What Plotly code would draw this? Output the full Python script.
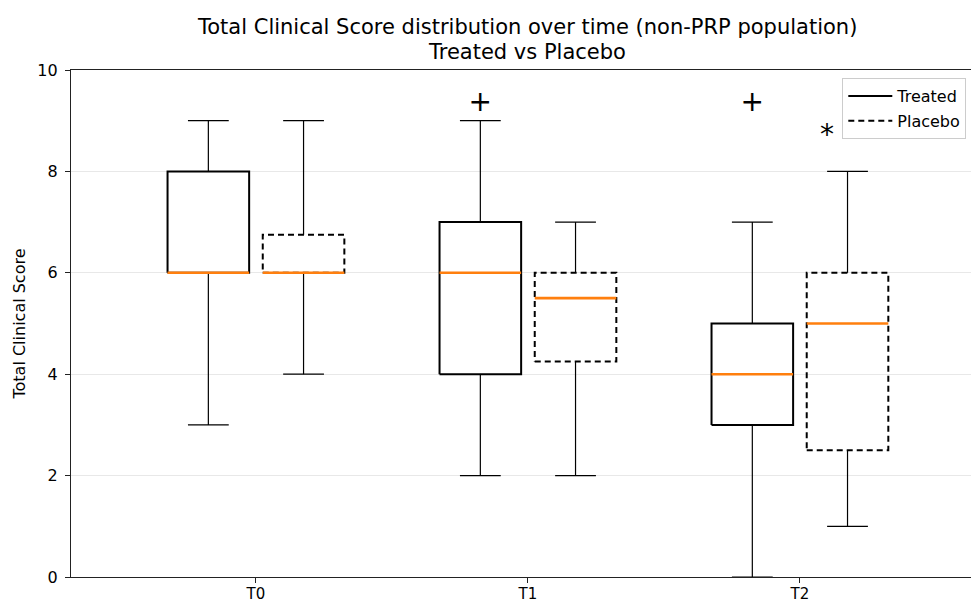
import plotly.graph_objects as go

# ---- data ----
times = ["T0", "T1", "T2"]
treated_whislo = [3, 2, 0]
treated_q1 = [6, 4, 3]
treated_med = [6, 6, 4]
treated_q3 = [8, 7, 5]
treated_whishi = [9, 9, 7]

placebo_whislo = [4, 2, 1]
placebo_q1 = [6, 4.25, 2.5]
placebo_med = [6, 5.5, 5]
placebo_q3 = [6.75, 6, 6]
placebo_whishi = [9, 7, 8]

mark_text = ["+", "+", "*"]
mark_x = [0.825, 1.825, 2.1]
mark_y = [9.33, 9.33, 8.68]

title_lines = ["Total Clinical Score distribution over time (non-PRP population)", "Treated vs Placebo"]

# ---- styling ----
OFFSET = 0.175
BOXW = 0.30
CAPW = 0.15
FONT = "DejaVu Sans"

fig = go.Figure()


def add_group(name, offset, whislo, q1, med, q3, whishi, dash):
    wx, wy, cx, cy, bx, by, mx, my = [], [], [], [], [], [], [], []
    for i in range(len(times)):
        p = i + offset
        wx += [p, p, None, p, p, None]
        wy += [whislo[i], q1[i], None, q3[i], whishi[i], None]
        cx += [p - CAPW / 2, p + CAPW / 2, None, p - CAPW / 2, p + CAPW / 2, None]
        cy += [whislo[i], whislo[i], None, whishi[i], whishi[i], None]
        l, r = p - BOXW / 2, p + BOXW / 2
        bx += [l, r, r, l, l, None]
        by += [q1[i], q1[i], q3[i], q3[i], q1[i], None]
        mx += [l, r, None]
        my += [med[i], med[i], None]
    fig.add_trace(go.Scatter(x=wx, y=wy, mode="lines", line=dict(color="black", width=1.2),
                             showlegend=False, hoverinfo="skip", legendgroup=name))
    fig.add_trace(go.Scatter(x=cx, y=cy, mode="lines", line=dict(color="black", width=1.2),
                             showlegend=False, hoverinfo="skip", legendgroup=name))
    fig.add_trace(go.Scatter(x=bx, y=by, mode="lines", name=name,
                             line=dict(color="black", width=2, dash=dash),
                             showlegend=True, legendgroup=name))
    fig.add_trace(go.Scatter(x=mx, y=my, mode="lines", line=dict(color="#ff7f0e", width=2.6),
                             showlegend=False, hoverinfo="skip", legendgroup=name))


add_group("Treated", -OFFSET, treated_whislo, treated_q1, treated_med, treated_q3, treated_whishi, "solid")
add_group("Placebo", OFFSET, placebo_whislo, placebo_q1, placebo_med, placebo_q3, placebo_whishi, "6px,4px")

fig.add_trace(go.Scatter(x=mark_x, y=mark_y, mode="text", text=mark_text,
                         textfont=dict(family=FONT, size=28, color="black"),
                         textposition="middle center", showlegend=False, hoverinfo="skip"))

# title as two centred lines above the plot area
for txt, yy in zip(title_lines, [1.0848, 1.0355]):
    fig.add_annotation(text=txt, xref="paper", yref="paper", x=0.5067, y=yy,
                       xanchor="center", yanchor="middle", showarrow=False,
                       font=dict(family=FONT, size=21, color="black"))

fig.update_layout(
    width=971, height=603,
    margin=dict(l=71, r=0, t=70, b=26, autoexpand=False),
    paper_bgcolor="white", plot_bgcolor="white",
    font=dict(family=FONT, size=16, color="black"),
    legend=dict(x=0.857, y=0.984, xanchor="left", yanchor="top", bgcolor="white",
                bordercolor="#cccccc", borderwidth=1, font=dict(size=16),
                tracegroupgap=1, itemwidth=44),
    showlegend=True,
)
fig.update_xaxes(range=[-0.68, 2.629], tickvals=[0, 1, 2], ticktext=times,
                 showline=True, linecolor="#222", linewidth=1.2, mirror=True,
                 ticks="outside", ticklen=5, tickcolor="#222", showgrid=False, zeroline=False,
                 ticklabelstandoff=-2, tickfont=dict(size=15), automargin=False)
fig.update_yaxes(range=[0, 10], tickvals=[0, 2, 4, 6, 8, 10],
                 showline=True, linecolor="#222", linewidth=1.2, mirror=False,
                 ticks="outside", ticklen=5, tickcolor="#222", ticklabelstandoff=4,
                 showgrid=True, gridcolor="#e8e8e8", gridwidth=1, zeroline=False,
                 automargin=False,
                 title=dict(text="Total Clinical Score", standoff=7, font=dict(size=16)))

fig.write_html("out.html", config={"displayModeBar": False},
               post_script="document.body.style.margin='0';")
